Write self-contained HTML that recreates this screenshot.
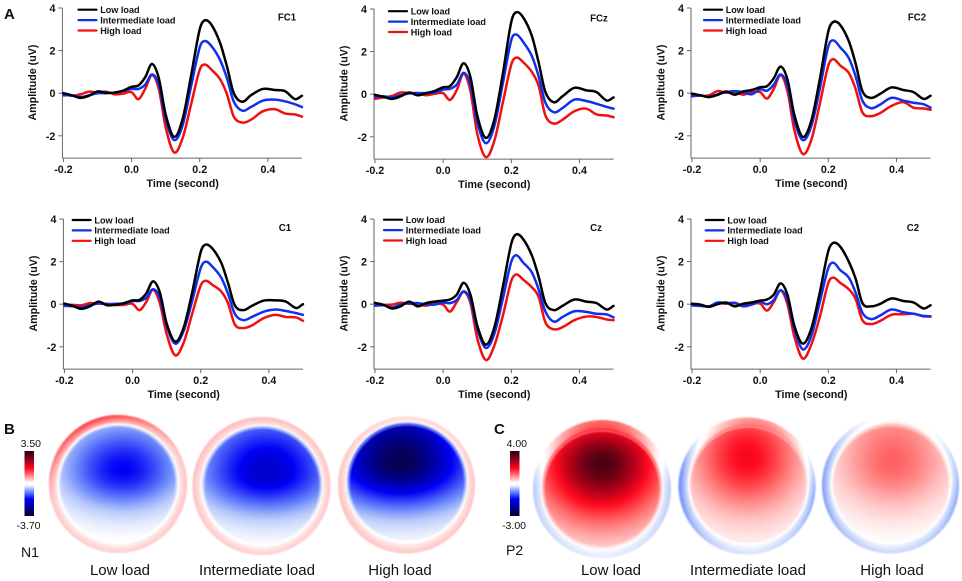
<!DOCTYPE html>
<html>
<head>
<meta charset="utf-8">
<title>ERP waveforms and topographic maps</title>
<style>
html,body{margin:0;padding:0;background:#fff;}
#stage{position:relative;width:962px;height:581px;overflow:hidden;background:#fff;font-family:"Liberation Sans",Arial,sans-serif;}
#stage svg{position:absolute;left:0;top:0;filter:blur(0.35px);}
#stage canvas{position:absolute;filter:blur(0.4px);}
</style>
</head>
<body>
<div id="stage">
<svg id="chart" width="962" height="581" viewBox="0 0 962 581">
  <defs>
    <linearGradient id="cbar" x1="0" y1="0" x2="0" y2="1">
      <stop offset="0" stop-color="#2a0010"/>
      <stop offset="0.12" stop-color="#8a0018"/>
      <stop offset="0.27" stop-color="#ff0a1e"/>
      <stop offset="0.38" stop-color="#ff8080"/>
      <stop offset="0.47" stop-color="#ffeeee"/>
      <stop offset="0.49" stop-color="#ffffff"/>
      <stop offset="0.52" stop-color="#ffffff"/>
      <stop offset="0.62" stop-color="#7090ff"/>
      <stop offset="0.74" stop-color="#0000f0"/>
      <stop offset="0.88" stop-color="#00008a"/>
      <stop offset="1" stop-color="#0a0030"/>
    </linearGradient>
  </defs>
  <text x="4" y="19" font-size="15" font-weight="bold" fill="#111">A</text>
  <text x="4" y="434" font-size="15" font-weight="bold" fill="#111">B</text>
  <text x="494" y="434" font-size="15" font-weight="bold" fill="#111">C</text>

  <rect x="24.5" y="451" width="9.5" height="65" fill="url(#cbar)"/>
  <text x="41" y="447" text-anchor="end" font-size="10.5" fill="#111">3.50</text>
  <text x="40.5" y="529" text-anchor="end" font-size="10.5" fill="#111">-3.70</text>
  <text x="21" y="557" font-size="14" fill="#111">N1</text>

  <rect x="510" y="451" width="9.5" height="65" fill="url(#cbar)"/>
  <text x="527" y="447" text-anchor="end" font-size="10.5" fill="#111">4.00</text>
  <text x="526" y="529" text-anchor="end" font-size="10.5" fill="#111">-3.00</text>
  <text x="506" y="555" font-size="14" fill="#111">P2</text>

  <text x="120" y="575" text-anchor="middle" font-size="15" fill="#111">Low load</text>
  <text x="257" y="575" text-anchor="middle" font-size="15" fill="#111">Intermediate load</text>
  <text x="400" y="575" text-anchor="middle" font-size="15" fill="#111">High load</text>
  <text x="611" y="575" text-anchor="middle" font-size="15" fill="#111">Low load</text>
  <text x="748" y="575" text-anchor="middle" font-size="15" fill="#111">Intermediate load</text>
  <text x="892" y="575" text-anchor="middle" font-size="15" fill="#111">High load</text>
</svg>
</div>
<script>
// ---------- chart data ----------
var times = [-0.2,-0.175,-0.15,-0.125,-0.1,-0.075,-0.05,-0.025,0,0.02,0.04,0.06,0.08,0.1,0.125,0.15,0.175,0.2,0.215,0.235,0.26,0.28,0.3,0.325,0.35,0.385,0.42,0.45,0.48,0.5];
var xTicks = [-0.2,0,0.2,0.4];
var xTickLabels = ["-0.2","0.0","0.2","0.4"];
var yTicks = [4,2,0,-2];
var yTickLabels = ["4","2","0","-2"];
var seriesNames = ["High load","Intermediate load","Low load"];
var legendNames = ["Low load","Intermediate load","High load"];

var fc1Low  = [0,-.1,-.22,-.12,.08,.02,.03,.12,.3,.36,.75,1.37,.7,-1.0,-2.05,-1.2,.85,3.0,3.42,3.2,2.35,1.25,0,-.4,-.1,.2,.15,.1,-.28,-.12];
var fc1Mid  = [-.1,-.1,-.18,-.1,0,0,.03,.1,.2,.2,.4,.88,.4,-1.2,-2.2,-1.5,.35,2.15,2.45,2.2,1.55,.7,-.4,-.82,-.65,-.35,-.3,-.38,-.52,-.65];
var fc1High = [-.05,-.12,-.05,.07,.03,.07,-.05,-.02,.05,-.28,.2,.85,.2,-1.6,-2.78,-2.1,-.5,1.1,1.35,1.1,.65,-.05,-1.1,-1.38,-1.25,-.85,-.75,-.95,-1.0,-1.1];

var fczLow  = [-.03,-.12,-.22,-.1,.08,-.05,.05,.15,.33,.38,.8,1.45,.8,-1.0,-2.05,-1.2,.95,3.4,3.85,3.6,2.75,1.5,.1,-.38,-.1,.3,.18,.1,-.3,-.15];
var fczMid  = [-.12,-.1,-.15,-.05,.03,.05,.05,.08,.22,.25,.45,1.0,.45,-1.3,-2.3,-1.5,.5,2.55,2.8,2.45,1.8,.85,-.4,-.85,-.65,-.25,-.32,-.45,-.6,-.68];
var fczHigh = [-.22,-.15,-.08,.08,.05,.05,-.05,.02,.05,-.27,.2,.95,.15,-1.85,-2.95,-2.2,-.4,1.4,1.72,1.5,1.05,.4,-1.0,-1.38,-1.2,-.8,-.68,-.95,-1.0,-1.08];

var fc2Low  = [-.02,-.1,-.18,-.08,.08,-.07,.08,.15,.28,.33,.7,1.25,.65,-1.0,-2.05,-1.3,.65,2.9,3.35,3.2,2.45,1.4,.1,-.22,-.05,.27,.15,.05,-.27,-.12];
var fc2Mid  = [-.15,-.1,-.18,-.05,.05,.1,.05,-.05,.18,.12,.4,.88,.35,-1.25,-2.2,-1.55,.2,2.2,2.48,2.15,1.65,.8,-.35,-.7,-.55,-.22,-.35,-.45,-.52,-.68];
var fc2High = [-.1,-.12,-.1,.1,.02,.05,-.07,.05,.05,-.25,.2,.85,.1,-1.7,-2.85,-2.2,-.5,1.3,1.6,1.3,.95,.2,-.9,-1.08,-.95,-.6,-.42,-.68,-.72,-.78];

var c1Low   = [.03,-.08,-.22,-.1,.12,-.05,-.03,.05,.18,.2,.5,1.07,.55,-.9,-1.75,-1.1,.55,2.45,2.8,2.6,1.95,1.0,-.05,-.28,-.08,.17,.18,.12,-.18,0];
var c1Mid   = [-.08,-.1,-.15,-.05,.03,0,.02,.03,.15,.15,.3,.7,.3,-1.0,-1.85,-1.25,.15,1.7,2.0,1.75,1.25,.5,-.45,-.75,-.6,-.35,-.25,-.32,-.42,-.5];
var c1High  = [-.02,-.03,-.05,.05,.03,.02,-.03,-.03,.02,-.28,.1,.68,.05,-1.4,-2.4,-1.8,-.45,.88,1.1,.9,.6,.05,-.95,-1.12,-1.0,-.65,-.5,-.6,-.62,-.78];

var czLow   = [.06,-.03,-.2,-.1,.12,-.1,.05,.12,.17,.22,.45,1.0,.45,-1.0,-1.9,-1.1,.8,2.85,3.28,3.05,2.3,1.3,.05,-.28,-.08,.22,.12,.05,-.25,-.08];
var czMid   = [-.07,-.05,-.15,-.02,.05,.05,0,-.02,.08,.05,.2,.6,.2,-1.15,-2.05,-1.4,.25,2.0,2.3,1.95,1.5,.7,-.35,-.82,-.6,-.33,-.36,-.45,-.48,-.62];
var czHigh  = [0,-.03,-.02,.07,.02,0,-.07,.03,-.02,-.35,.1,.58,.05,-1.6,-2.62,-1.95,-.55,1.1,1.4,1.15,.8,.35,-.85,-1.18,-1.08,-.75,-.58,-.6,-.72,-.75];

var c2Low   = [.02,-.02,-.12,0,.08,-.1,.02,.08,.17,.22,.45,.98,.45,-1.0,-1.85,-1.15,.55,2.5,2.88,2.7,2.0,1.2,.05,-.1,0,.27,.15,.08,-.2,-.05];
var c2Mid   = [-.05,-.08,-.1,.08,.05,.05,-.1,-.02,.12,0,.2,.65,.2,-1.15,-2.12,-1.5,.1,1.7,1.95,1.6,1.25,.55,-.4,-.7,-.55,-.25,-.38,-.45,-.55,-.57];
var c2High  = [-.05,-.08,-.1,.05,.02,.07,-.05,0,.03,-.3,.1,.65,0,-1.5,-2.55,-1.9,-.6,1.0,1.25,1.0,.7,.25,-.75,-.93,-.8,-.5,-.47,-.45,-.57,-.58];

var channelNames = ["FC1","FCz","FC2","C1","Cz","C2"];
var channelSeries = [
  [fc1High,fc1Mid,fc1Low],[fczHigh,fczMid,fczLow],[fc2High,fc2Mid,fc2Low],
  [c1High,c1Mid,c1Low],[czHigh,czMid,czLow],[c2High,c2Mid,c2Low]
];

// ---------- layout (not data) ----------
var frames = [
  {l:63.4,top:8,  legX:78.5, legY:9.7,  nameX:287,nameY:20.5},
  {l:375, top:9,  legX:389,  legY:11.2, nameX:599,nameY:21.7},
  {l:692, top:8,  legX:704,  legY:9.7,  nameX:917,nameY:20.5},
  {l:64.4,top:219,legX:72.7, legY:220,  nameX:285,nameY:231},
  {l:375, top:219,legX:384,  legY:219.7,nameX:596,nameY:231},
  {l:692, top:219,legX:705.7,legY:220,  nameX:913,nameY:231}
];
var seriesColors = ["#f01010","#1030f0","#000000"];
var legendColors = ["#000000","#1030f0","#f01010"];
var NS = "http://www.w3.org/2000/svg";
var chart = document.getElementById("chart");

function make(tag,parent,attrs,txt){
  var e=document.createElementNS(NS,tag);
  for(var k in attrs){e.setAttribute(k,attrs[k]);}
  if(txt!==undefined){e.textContent=txt;}
  parent.appendChild(e);
  return e;
}
function smoothPath(px,py){
  var n=px.length,m=[];
  for(var i=0;i<n;i++){
    var a=Math.max(0,i-1),b=Math.min(n-1,i+1);
    m.push((py[b]-py[a])/(px[b]-px[a]));
  }
  var d="M"+px[0].toFixed(2)+" "+py[0].toFixed(2);
  for(var j=0;j<n-1;j++){
    var h=(px[j+1]-px[j])/3;
    d+="C"+(px[j]+h).toFixed(2)+" "+(py[j]+m[j]*h).toFixed(2)+" "+(px[j+1]-h).toFixed(2)+" "+(py[j+1]-m[j+1]*h).toFixed(2)+" "+px[j+1].toFixed(2)+" "+py[j+1].toFixed(2);
  }
  return d;
}
channelNames.forEach(function(ch,pi){
  var f=frames[pi];
  var key=ch.toLowerCase();
  var xS=function(t){return f.l+(t+0.2)*340.8;};
  var yS=function(v){return f.top+(4-v)*21.3;};
  var axisX=f.l-1;
  var bottom=yS(-3.05);
  var g=make("g",chart,{});
  
  

  var ya=make("line",g,{x1:axisX,x2:axisX,y1:yS(4),y2:bottom,stroke:"#666","stroke-width":1});
  
  
  var xa=make("line",g,{x1:axisX,x2:xS(0.5),y1:bottom,y2:bottom,stroke:"#666","stroke-width":1});
  
  

  yTicks.forEach(function(v,i){
    var tk=make("line",g,{x1:axisX-4,x2:axisX,y1:yS(v),y2:yS(v),stroke:"#666","stroke-width":1});
    
    
    var lb=make("text",g,{x:axisX-7,y:yS(v)+4,"text-anchor":"end","font-size":10.7,"font-weight":"bold",fill:"#111"},yTickLabels[i]);
    
    
  });
  xTicks.forEach(function(t,i){
    var tk=make("line",g,{x1:xS(t),x2:xS(t),y1:bottom,y2:bottom+4,stroke:"#666","stroke-width":1});
    
    
    var lb=make("text",g,{x:xS(t),y:bottom+15,"text-anchor":"middle","font-size":10.7,"font-weight":"bold",fill:"#111"},xTickLabels[i]);
    
    
  });
  var xt=make("text",g,{x:xS(0.15),y:bottom+29,"text-anchor":"middle","font-size":10.7,"font-weight":"bold",fill:"#111"},"Time (second)");
  
  
  var yx=f.l-27.5,yy=yS(0.5);
  var yt=make("text",g,{x:yx,y:yy,"text-anchor":"middle","font-size":10.7,"font-weight":"bold",fill:"#111",transform:"rotate(-90 "+yx+" "+yy+")"},"Amplitude (uV)");
  
  

  channelSeries[pi].forEach(function(vals,si){
    var px=times.map(xS);
    var py=vals.map(yS);
    var p=make("path",g,{d:smoothPath(px,py),fill:"none",stroke:seriesColors[si],"stroke-width":2.5,"stroke-linejoin":"round","stroke-linecap":"round"});
    
    
  });

  legendNames.forEach(function(n,i){
    var ly=f.legY+i*10.4;
    var ll=make("line",g,{x1:f.legX,x2:f.legX+18,y1:ly,y2:ly,stroke:legendColors[i],"stroke-width":2.2,"stroke-linecap":"round"});
    
    
    var lt=make("text",g,{x:f.legX+21.7,y:ly+3.3,"font-size":9.1,"font-weight":"bold",fill:"#111"},n);
    
    
  });
  var nm=make("text",g,{x:f.nameX,y:f.nameY,"text-anchor":"middle","font-size":9.7,"font-weight":"bold",fill:"#111"},ch);
  
  
});

// ---------- topographic maps ----------
var colorStops = [
  [-1,16,0,56],[-.85,0,0,130],[-.6,0,0,245],[-.35,100,130,250],[-.2,185,202,250],[-.03,255,255,255],
  [.03,255,255,255],[.2,255,192,192],[.4,255,106,106],[.6,255,10,30],[.8,160,0,24],[1,48,0,16]
];
function colorAt(v){
  if(v<=colorStops[0][0]){return colorStops[0].slice(1);}
  for(var i=1;i<colorStops.length;i++){
    if(v<=colorStops[i][0]){
      var a=colorStops[i-1],b=colorStops[i],t=(v-a[0])/(b[0]-a[0]);
      return [a[1]+(b[1]-a[1])*t,a[2]+(b[2]-a[2])*t,a[3]+(b[3]-a[3])*t];
    }
  }
  return colorStops[colorStops.length-1].slice(1);
}
var topoNames = ["n1-low-load","n1-intermediate-load","n1-high-load","p2-low-load","p2-intermediate-load","p2-high-load"];
// peak amplitude of each map (normalised to the colour scale)
var topoPeaks = [-.6,-.7,-.95,.95,.62,.42];
var topoRimBase = [.17,.17,.17,-.1,-.12,-.15];
var topoRimTop = [.35,.05,0,.5,.4,.15];
var topoRimSide = [.03,.03,.03,-.1,-.2,-.15];
// geometry: outer cx,cy,r ; inner cx,cy ; peak px,py ; spreads sx,up,down ; rim direction
var topoShapes = [
  {cx:118,cy:484,r:69,ix:118,iy:484,px:123,py:470,sx:62,su:50,sd:40,dir:-110},
  {cx:261.5,cy:486,r:69,ix:262,iy:486,px:267,py:472,sx:72,su:62,sd:42,dir:-90},
  {cx:406.5,cy:485,r:68.5,ix:407,iy:483,px:400,py:463,sx:78,su:75,sd:46,dir:-90},
  {cx:602,cy:489,r:69,ix:602,iy:489,px:602,py:463,sx:70,su:52,sd:64,dir:-90},
  {cx:747,cy:486,r:68.5,ix:748.5,iy:485,px:747,py:457,sx:59,su:60,sd:58,dir:-80},
  {cx:890.5,cy:485,r:68.5,ix:891,iy:484,px:893,py:462,sx:60,su:70,sd:50,dir:-70}
];
var stage=document.getElementById("stage");
topoNames.forEach(function(name,m){
  var s=topoShapes[m];
  var A=topoPeaks[m];
  var size=150;
  var ox=Math.round(s.cx-size/2),oy=Math.round(s.cy-size/2);
  var cv=document.createElement("canvas");
  cv.width=size;cv.height=size;
  cv.style.left=ox+"px";cv.style.top=oy+"px";
  
  
  stage.appendChild(cv);
  var ctx=cv.getContext("2d");
  var img=ctx.createImageData(size,size);
  var dirRad=s.dir*Math.PI/180;
  var innerR=58;
  for(var y=0;y<size;y++){
    for(var x=0;x<size;x++){
      var X=ox+x+.5,Y=oy+y+.5;
      var dOuter=Math.sqrt((X-s.cx)*(X-s.cx)+(Y-s.cy)*(Y-s.cy));
      var alpha=Math.max(0,Math.min(1,s.r-dOuter+.5));
      if(alpha<=0){continue;}
      var dx=(X-s.px)/s.sx;
      var dy=(Y-s.py)/(Y<s.py?s.su:s.sd);
      var rr=Math.sqrt(dx*dx+dy*dy);
      var field=A*Math.exp(-Math.pow(rr,1.9));
      var dInner=Math.sqrt((X-s.ix)*(X-s.ix)+(Y-s.iy)*(Y-s.iy));
      var v=field;
      if(dInner>innerR){
        var u=Math.min(1,(dInner-innerR)/(s.r-innerR));
        var th=Math.atan2(Y-s.iy,X-s.ix);
        var c=Math.max(0,Math.cos(th-dirRad));
        var side=Math.cos(th);
        var ramp=Math.pow(u,.7);
        var fast=Math.min(1,u*3);
        var topRamp=m<3?ramp:fast;
        v=field*(1-fast)+(topoRimBase[m]+topoRimSide[m]*side*side)*ramp+topoRimTop[m]*Math.pow(c,1.5)*topRamp;
      }
      var col=colorAt(v);
      var ring=Math.max(0,1-Math.abs(dInner-innerR)/1.1)*0.5;
      var i=(y*size+x)*4;
      img.data[i]=col[0]+(255-col[0])*ring;
      img.data[i+1]=col[1]+(255-col[1])*ring;
      img.data[i+2]=col[2]+(255-col[2])*ring;
      img.data[i+3]=alpha*255;
    }
  }
  ctx.putImageData(img,0,0);
});
</script>
</body>
</html>
